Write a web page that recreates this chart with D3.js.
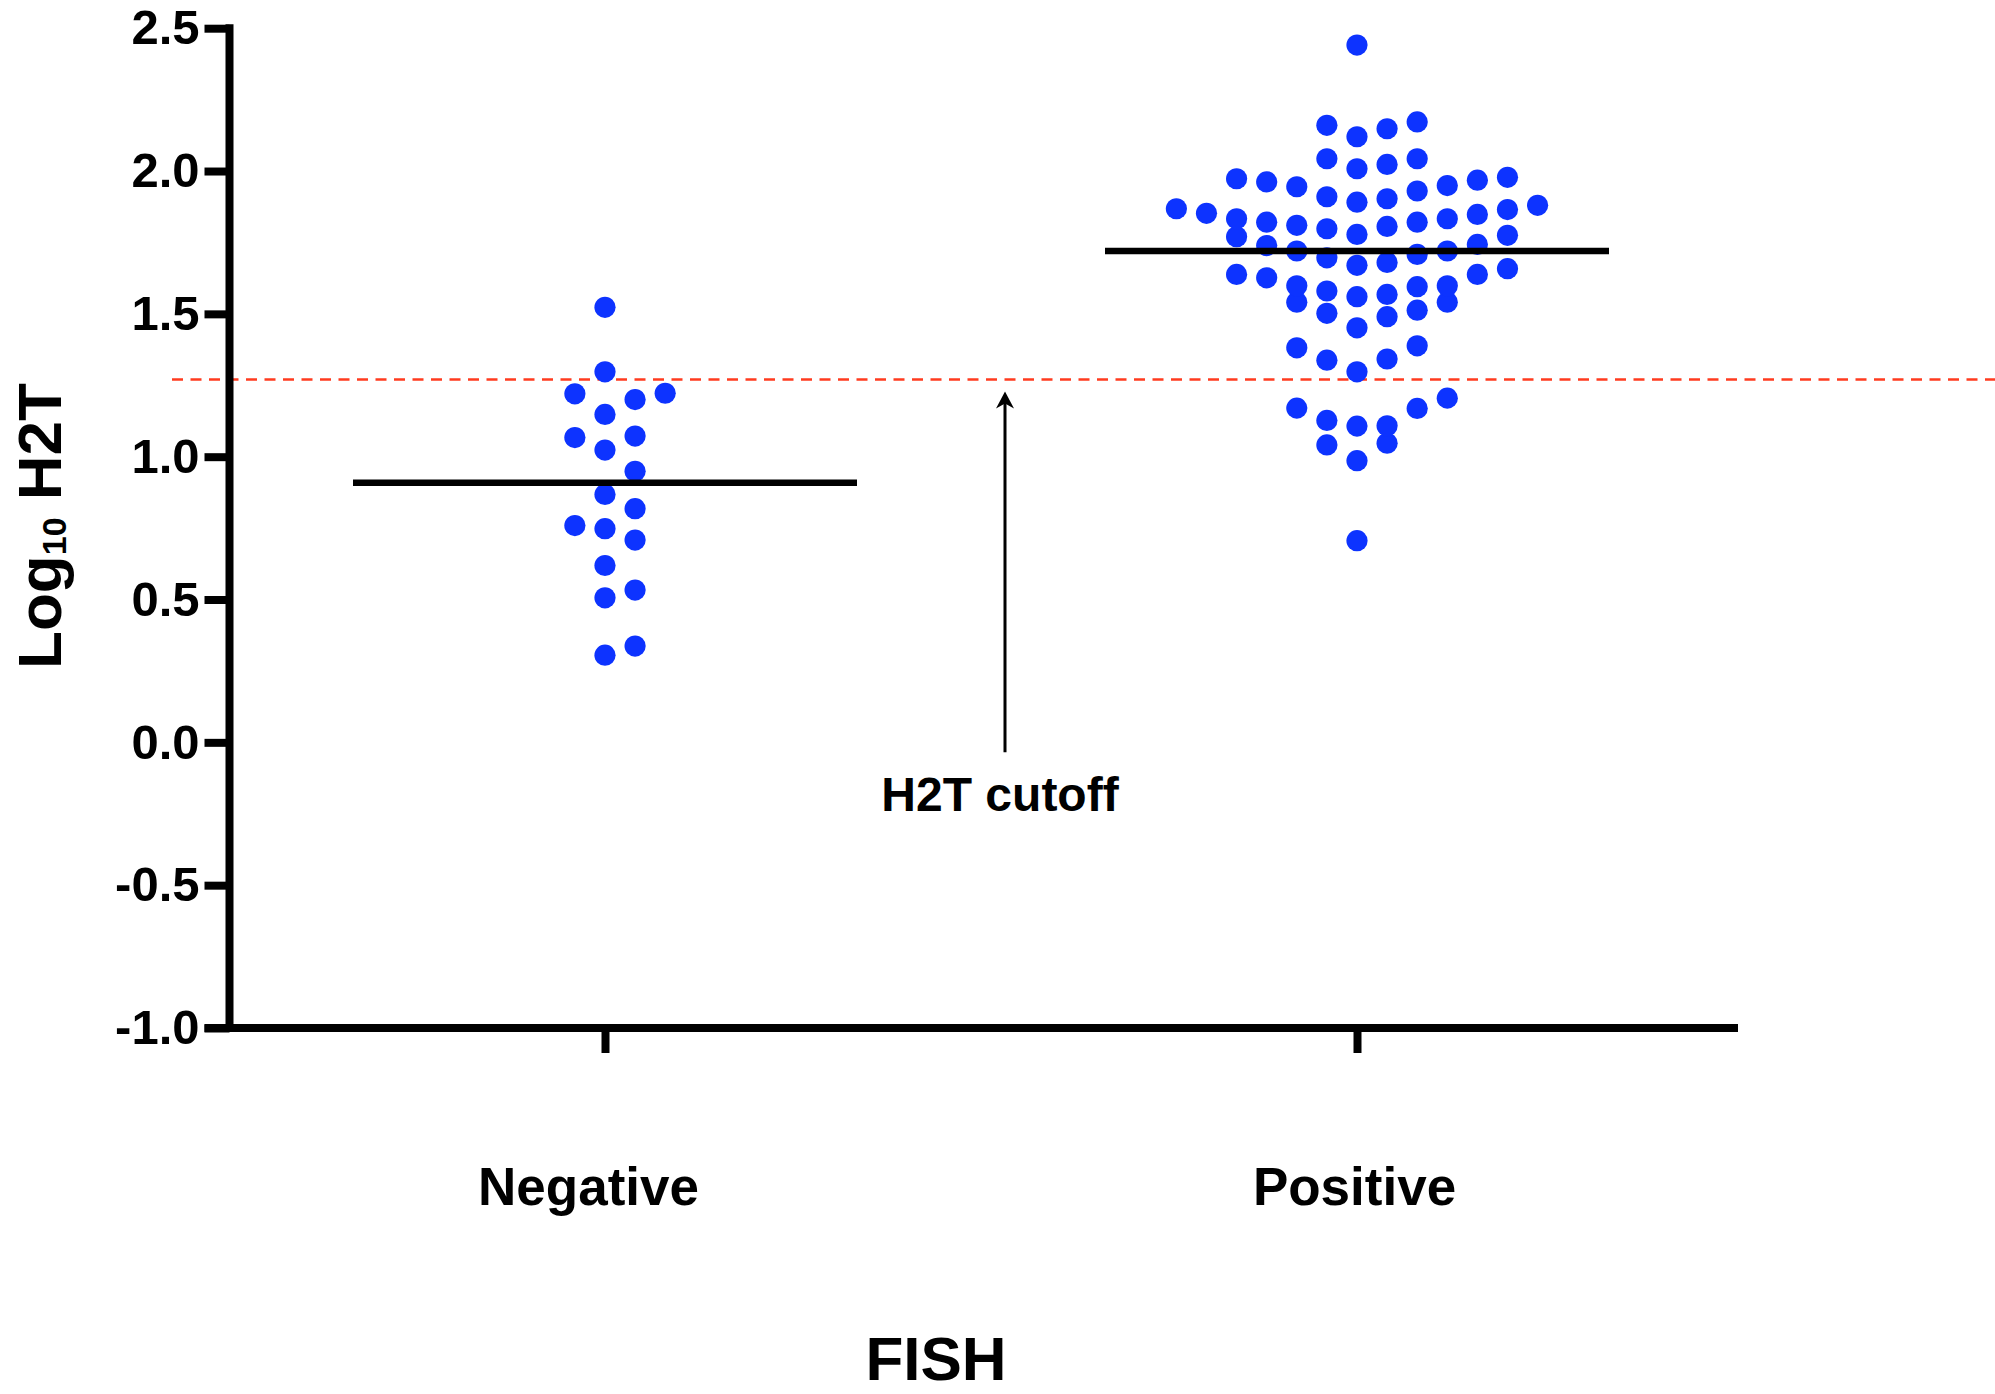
<!DOCTYPE html>
<html>
<head>
<meta charset="utf-8">
<script src="https://cdn.jsdelivr.net/npm/d3@7"></script>
<style>
  body { margin: 0; background: #fff; }
  svg { display: block; font-family: "Liberation Sans", Arial, sans-serif; font-weight: bold; }
</style>
</head>
<body>
<svg width="1995" height="1394"></svg>
<script>
// data
const categories = ['Negative', 'Positive'];

const negativeValues = [1.523, 1.297, 1.220, 1.222, 1.200, 1.148, 1.067, 1.072, 1.023, 0.949,
  0.868, 0.818, 0.759, 0.748, 0.708, 0.619, 0.533, 0.506, 0.337, 0.305];

const positiveValues = [2.441,
  2.160, 2.120, 2.148, 2.172,
  2.043, 2.023, 2.008, 2.043,
  1.973, 1.962, 1.945, 1.910, 1.891, 1.903, 1.930, 1.949, 1.968, 1.978,
  1.868, 1.852, 1.833, 1.821, 1.810, 1.798, 1.778, 1.806, 1.821, 1.833, 1.848, 1.865, 1.880,
  1.770, 1.739, 1.720, 1.696, 1.670, 1.680, 1.708, 1.720, 1.743, 1.775,
  1.658, 1.638, 1.598, 1.595, 1.541, 1.568, 1.502, 1.560, 1.451, 1.580, 1.490, 1.598, 1.513, 1.626, 1.541, 1.638,
  1.381, 1.338, 1.297, 1.342, 1.388,
  1.169, 1.127, 1.107, 1.108, 1.047, 1.041, 0.986, 1.170, 1.205,
  0.706];

const cutoff = [1.27];
const yTicks = [-1, -0.5, 0, 0.5, 1, 1.5, 2, 2.5];
const yTickLabels = ['-1.0', '-0.5', '0.0', '0.5', '1.0', '1.5', '2.0', '2.5'];

const groups = [
  {name: categories[0], values: negativeValues},
  {name: categories[1], values: positiveValues}
];

const svg = d3.select('svg');
const W = 1995;
const axisX = 229.5, plotRight = 1738;
const tick = 25;
const dotColor = '#0d33ff';

const y = d3.scaleLinear().domain([-1, 2.5]).range([1028, 28.2]);
const x = d3.scalePoint().domain(categories).range([229, 1733]).padding(0.5);

// cutoff dashed line (behind everything)
svg.selectAll('.cut')
  .data(cutoff)
  .enter().append('line')
  .attr('x1', 172).attr('x2', W)
  .attr('y1', d => y(d)).attr('y2', d => y(d))
  .attr('stroke', '#ff3b1f')
  .attr('stroke-width', 2.5)
  .attr('stroke-dasharray', '11 7.5');

// y axis
const yAxis = d3.axisLeft(y)
  .tickValues(yTicks)
  .tickFormat((d, i) => yTickLabels[i])
  .tickSize(tick)
  .tickSizeOuter(0)
  .tickPadding(5);

const gy = svg.append('g').attr('transform', `translate(${axisX},0)`).call(yAxis);
gy.select('.domain').remove();
gy.selectAll('line').attr('stroke', '#000').attr('stroke-width', 8);
gy.selectAll('text').attr('fill', '#000').style('font-size', '49px');

// x axis
const xAxis = d3.axisBottom(x).tickSize(tick).tickSizeOuter(0).tickPadding(114);
const gx = svg.append('g').attr('transform', `translate(0,${y(-1)})`).call(xAxis);
gx.select('.domain').remove();
gx.selectAll('line').attr('stroke', '#000').attr('stroke-width', 8);
gx.selectAll('text').attr('fill', '#000').style('font-size', '53px')
  .attr('dx', (d, i) => i === 0 ? -17 : -3);

// axis lines
svg.append('line')
  .attr('x1', axisX).attr('x2', axisX)
  .attr('y1', y(2.5) - 4).attr('y2', y(-1) + 4)
  .attr('stroke', '#000').attr('stroke-width', 8);
svg.append('line')
  .attr('x1', axisX - tick).attr('x2', plotRight)
  .attr('y1', y(-1)).attr('y2', y(-1))
  .attr('stroke', '#000').attr('stroke-width', 8);

// prism-like column scatter: bin into rows, spread from the middle
const rowSpan = 0.106, slotStep = 30.1;
function swarm(values) {
  const sorted = values.slice().sort(d3.ascending);
  const rows = [];
  let cur = null;
  sorted.forEach(v => {
    if (!cur || v > cur.start + rowSpan) { cur = {start: v, vals: []}; rows.push(cur); }
    cur.vals.push(v);
  });
  const out = [];
  rows.forEach(r => {
    const sign = r.vals.length % 2 ? -1 : 1;
    r.vals.forEach((v, i) => {
      const k = Math.ceil(i / 2);
      const slot = i === 0 ? 0 : (i % 2 ? sign * k : -sign * k);
      out.push({v, slot});
    });
  });
  return out;
}

groups.forEach(g => {
  const cx = x(g.name);
  const med = d3.median(g.values);

  svg.append('g').selectAll('circle')
    .data(swarm(g.values))
    .enter().append('circle')
    .attr('cx', d => cx + d.slot * slotStep)
    .attr('cy', d => y(d.v))
    .attr('r', 10.6)
    .attr('fill', dotColor);

  svg.append('line')
    .attr('x1', cx - 252).attr('x2', cx + 252)
    .attr('y1', y(med)).attr('y2', y(med))
    .attr('stroke', '#000').attr('stroke-width', 6.5);
});

// cutoff annotation
const arrowX = 1005;
const tipY = y(cutoff[0]) + 12;
svg.append('line')
  .attr('x1', arrowX).attr('x2', arrowX)
  .attr('y1', y(0) + 10).attr('y2', tipY + 10)
  .attr('stroke', '#000').attr('stroke-width', 3);
svg.append('path')
  .attr('d', `M${arrowX},${tipY} L${arrowX - 9},${tipY + 17} L${arrowX},${tipY + 12} L${arrowX + 9},${tipY + 17} Z`)
  .attr('fill', '#000');
svg.append('text')
  .attr('x', 1000).attr('y', 811)
  .attr('text-anchor', 'middle')
  .style('font-size', '48px')
  .text('H2T cutoff');

// axis titles
const yt = svg.append('text')
  .attr('transform', 'translate(61,526) rotate(-90)')
  .attr('text-anchor', 'middle')
  .style('font-size', '62px');
yt.append('tspan').text('Log');
yt.append('tspan').attr('dy', 5).style('font-size', '34px').text('10');
yt.append('tspan').attr('dy', -5).text(' H2T');

svg.append('text')
  .attr('x', 936).attr('y', 1380)
  .attr('text-anchor', 'middle')
  .style('font-size', '62px')
  .text('FISH');
</script>
</body>
</html>
